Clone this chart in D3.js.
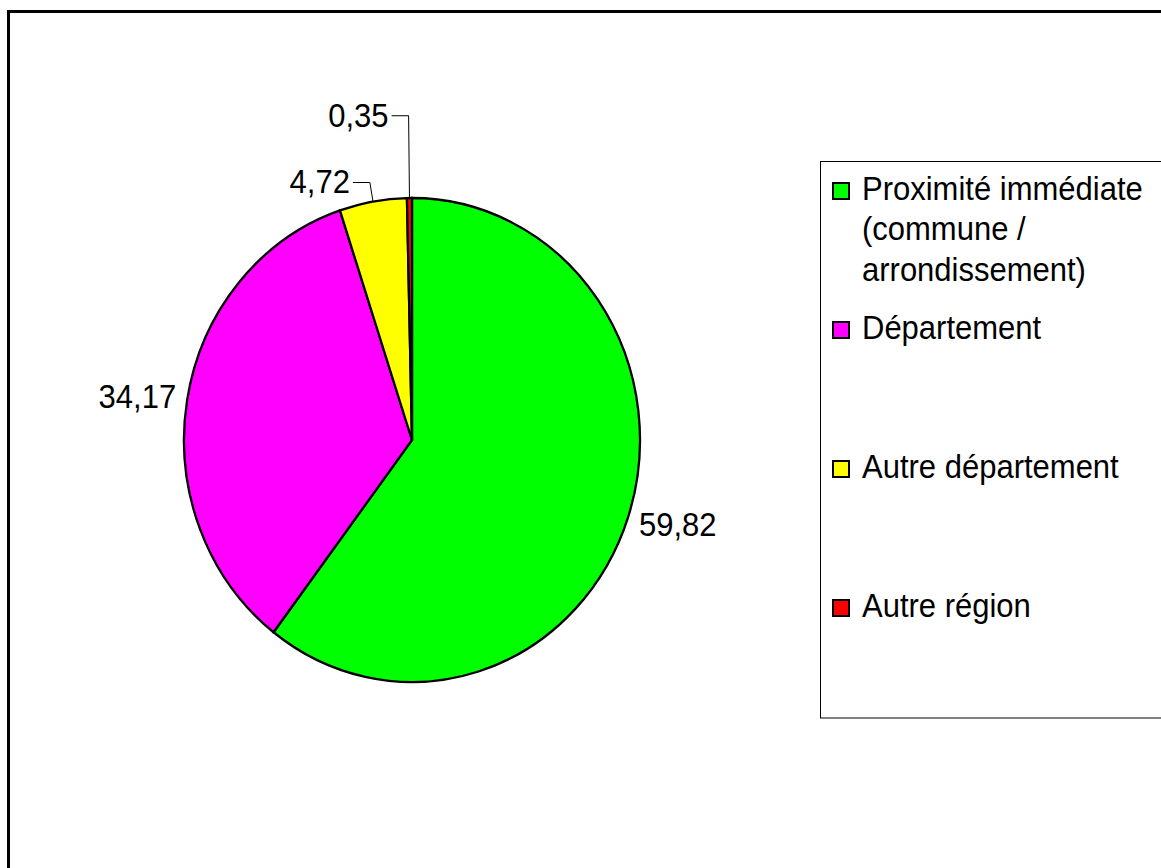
<!DOCTYPE html>
<html>
<head>
<meta charset="utf-8">
<script src="https://cdn.jsdelivr.net/npm/d3@7"></script>
<style>
    body { margin: 0; background: #fff; }
    text { font-family: "Liberation Sans", Arial, sans-serif; fill: #000; }
</style>
</head>
<body>
<div id="chart"></div>
<script>
// data
const categories = ["Proximité immédiate (commune / arrondissement)", "Département", "Autre département", "Autre région"];
const legendLines = [["Proximité immédiate", "(commune /", "arrondissement)"], ["Département"], ["Autre département"], ["Autre région"]];
const values = [59.82, 34.17, 4.72, 0.35];
const colors = ["#00ff00", "#ff00ff", "#ffff00", "#ff0000"];

// french number format (comma decimal)
const fr = d3.formatLocale({decimal: ",", thousands: " ", grouping: [3], currency: ["", " €"]});
const fmt = fr.format(".2f");

const width = 1161, height = 868;
const cx = 412, cy = 440, rx = 228, ry = 242;
const textStretch = 1.06;   // the picture is a bit stretched vertically

const svg = d3.select("#chart").append("svg")
    .attr("width", width)
    .attr("height", height);

// outer frame (runs off the right / bottom edge)
svg.append("rect")
    .attr("x", 8.5).attr("y", 11.5)
    .attr("width", 1300).attr("height", 1000)
    .attr("fill", "none")
    .attr("stroke", "#000")
    .attr("stroke-width", 3);

let pie = d3.pie().sort(null).value(d => d);
let arcs = pie(values);

let arc = d3.arc().innerRadius(0).outerRadius(rx);

// pie is a bit taller than wide -> scale y
let pieG = svg.append("g")
    .attr("transform", `translate(${cx},${cy}) scale(1,${ry / rx})`);

pieG.selectAll("path")
    .data(arcs)
    .enter()
    .append("path")
    .attr("d", arc)
    .attr("fill", (d, i) => colors[i])
    .attr("stroke", "#000")
    .attr("stroke-width", 2.3)
    .attr("vector-effect", "non-scaling-stroke");

// point on the (elliptic) rim at a given angle, k = radius factor
function rimPoint(a, k) {
    let c = d3.arc().innerRadius(rx * k).outerRadius(rx * k)
        .centroid({startAngle: a, endAngle: a});
    return [cx + c[0], cy + c[1] * ry / rx];
}

// leader elbow radius for the thin slices
const leaderK = {2: 1.08, 3: 1.34};

let labelG = svg.append("g");

function addLabel(x, y, anchor, str) {
    labelG.append("text")
        .attr("transform", `translate(${x},${y}) scale(1,${textStretch})`)
        .attr("text-anchor", anchor)
        .attr("font-size", "31px")
        .text(str);
}

arcs.forEach((d, i) => {
    let mid = (d.startAngle + d.endAngle) / 2;
    let p = rimPoint(mid, 1);

    if (leaderK[i]) {
        let e = rimPoint(mid, leaderK[i]);
        labelG.append("polyline")
            .attr("points", [p, e, [e[0] - 17, e[1]]].map(q => q.join(",")).join(" "))
            .attr("fill", "none")
            .attr("stroke", "#000")
            .attr("stroke-width", 1);
        addLabel(e[0] - 20, e[1] + 11, "end", fmt(d.data));
    } else {
        let right = Math.sin(mid) > 0;
        let lower = Math.cos(mid) < 0;
        addLabel(right ? p[0] + 11 : p[0] - 11, lower ? p[1] + 18 : p[1] + 8,
            right ? "start" : "end", fmt(d.data));
    }
});

// Legend
let legend = svg.append("g").attr("class", "legend");

legend.append("rect")
    .attr("x", 820.5).attr("y", 161.5)
    .attr("width", 400).attr("height", 556.5)
    .attr("fill", "#fff")
    .attr("stroke", "#000")
    .attr("stroke-width", 1);

let item = legend.selectAll("g.item")
    .data(categories)
    .enter()
    .append("g")
    .attr("class", "item")
    .attr("transform", (d, i) => `translate(0,${200 + i * 139})`);

item.append("rect")
    .attr("x", 833).attr("y", -17)
    .attr("width", 16).attr("height", 16)
    .attr("fill", (d, i) => colors[i])
    .attr("stroke", "#000")
    .attr("stroke-width", 2);

item.append("text")
    .attr("font-size", "31px")
    .attr("transform", `scale(1,${textStretch})`)
    .each(function (d, i) {
        d3.select(this).selectAll("tspan")
            .data(legendLines[i])
            .enter()
            .append("tspan")
            .attr("x", 862)
            .attr("y", (t, j) => j * 40.5 / textStretch)
            .text(t => t);
    });
</script>
</body>
</html>
